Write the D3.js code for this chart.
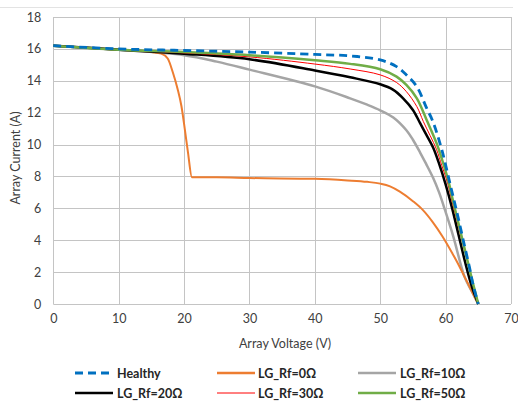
<!DOCTYPE html>
<html><head><meta charset="utf-8">
<script src="https://cdn.jsdelivr.net/npm/d3@7"></script>
<style>body{margin:0;background:#fff;}svg{display:block;font-family:Lato,"Open Sans",sans-serif;}</style>
</head><body><svg id="c" width="518" height="401"></svg>
<script>
const xTicks = [0,10,20,30,40,50,60,70];
const yTicks = [0,2,4,6,8,10,12,14,16,18];

const healthyV = [0,10,20,30,40,45.4,50,52.5,54,55.6,57.1,58,59.4,60.7,61.7,62.7,63.7,64.2,65];
const healthyI = [16.2,16.0,15.9,15.8,15.65,15.56,15.31,14.89,14.37,13.63,12.28,11.5,9.7,7.5,5.8,4.0,2.2,1.2,0];

const rf0V = [0,10,15,16.5,17.5,18.3,19.0,19.6,20.1,20.6,21.2,25,30,40,45,48,50,51.5,53,55,56.5,58,59.5,61,62,62.9,64,65];
const rf0I = [16.2,15.95,15.8,15.7,15.4,14.5,13.5,12.4,11.0,9.5,7.95,7.95,7.9,7.85,7.75,7.66,7.55,7.38,7.05,6.45,5.9,5.15,4.25,3.2,2.45,1.7,0.8,0];

const rf10V = [0,10,20,25,30,40,45.4,48,50,52,54,55,56.1,57,58.1,59,59.9,61.2,62.9,64,65];
const rf10I = [16.2,15.95,15.6,15.2,14.7,13.65,12.9,12.5,12.15,11.7,10.9,10.3,9.5,8.8,7.9,7.0,5.9,4.2,1.7,0.8,0];

const rf20V = [0,10,20,30,40,45.4,50,52,53.5,55,56.1,57,58.1,59,60,61,62,63,64,65];
const rf20I = [16.2,15.95,15.7,15.35,14.65,14.22,13.78,13.43,12.9,12.17,11.34,10.65,9.8,8.8,7.5,6.0,4.3,2.6,1.1,0];

const rf30V = [0,10,20,30,40,45.4,50,52.5,54,55.6,56.6,58.6,59.4,60.3,61,62,63,64,65];
const rf30I = [16.2,15.95,15.75,15.5,15.05,14.74,14.37,13.89,13.32,12.38,11.44,9.7,8.7,7.6,6.4,4.8,3.2,1.6,0];

const rf50V = [0,10,20,30,40,45.4,50,52.5,54,55.6,57.1,58.6,59.5,60.5,61,62,63,64,65];
const rf50I = [16.2,15.95,15.8,15.6,15.28,15.06,14.72,14.26,13.74,12.9,11.54,10.1,9.0,7.6,6.7,5.0,3.3,1.6,0];

const seriesNames = ["Healthy","LG_Rf=0Ω","LG_Rf=10Ω","LG_Rf=20Ω","LG_Rf=30Ω","LG_Rf=50Ω"];
const seriesColors = ["#0070C0","#ED7D31","#A5A5A5","#000000","#FF0000","#70AD47"];

const svg = d3.select("#c");
const m = {l:53.3, r:511, t:17, b:304};
const x = d3.scaleLinear().domain([0,70]).range([m.l,m.r]);
const y = d3.scaleLinear().domain([0,18]).range([m.b,m.t]);

svg.append("line").attr("x1",0).attr("x2",513).attr("y1",7.5).attr("y2",7.5).attr("stroke","#e3e3e3").attr("stroke-width",1);

// grid
const g = svg.append("g");
g.selectAll("line.h").data(yTicks).join("line")
  .attr("x1",m.l).attr("x2",m.r).attr("y1",d=>Math.round(y(d))+0.5).attr("y2",d=>Math.round(y(d))+0.5)
  .attr("stroke","#C4C4C4").attr("stroke-width",1);
g.selectAll("line.v").data(xTicks).join("line")
  .attr("y1",m.t).attr("y2",m.b).attr("x1",d=>Math.round(x(d))+0.5).attr("x2",d=>Math.round(x(d))+0.5)
  .attr("stroke","#C4C4C4").attr("stroke-width",1);

// axes with labels
const xa = svg.append("g").attr("transform",`translate(0,${m.b})`)
  .call(d3.axisBottom(x).tickValues(xTicks).tickSize(0).tickPadding(10));
xa.select(".domain").remove();
xa.selectAll("text").attr("font-size",12.5).attr("fill","#404040").attr("font-family","Lato,sans-serif");
const ya = svg.append("g").attr("transform",`translate(${m.l-12},0)`)
  .call(d3.axisLeft(y).tickValues(yTicks).tickSize(0).tickPadding(0));
ya.select(".domain").remove();
ya.selectAll("text").attr("font-size",12.5).attr("fill","#404040").attr("font-family","Lato,sans-serif");

svg.append("text").attr("x",285).attr("y",348).attr("text-anchor","middle").attr("font-size",12.5).attr("fill","#404040").text("Array Voltage (V)");
svg.append("text").attr("transform","translate(20,158) rotate(-90)").attr("text-anchor","middle").attr("font-size",12.5).attr("fill","#404040").text("Array Current (A)");

const data = [
  {v:healthyV,i:healthyI,w:2.8,dash:"8,5"},
  {v:rf0V,i:rf0I,w:2,dash:null},
  {v:rf10V,i:rf10I,w:2.5,dash:null},
  {v:rf20V,i:rf20I,w:2.5,dash:null},
  {v:rf30V,i:rf30I,w:1,dash:null},
  {v:rf50V,i:rf50I,w:2.5,dash:null}
];
const smooth = d3.line().x(d=>x(d[0])).y(d=>y(d[1])).curve(d3.curveCatmullRom.alpha(0.5));
const mono = d3.line().x(d=>x(d[0])).y(d=>y(d[1])).curve(d3.curveMonotoneX);
const order = [2,1,3,4,5,0];
order.forEach(k=>{
  const s = data[k];
  const gen = k===1 ? mono : smooth;
  svg.append("path").attr("d",gen(s.v.map((v,j)=>[v,s.i[j]])))
    .attr("fill","none").attr("stroke",seriesColors[k]).attr("stroke-width",s.w)
    .attr("stroke-dasharray",s.dash);
});

// legend
const lx = [75,217,358], tx=[117,258,400], ly=[373,393];
seriesNames.forEach((n,k)=>{
  const c = k%3, r = Math.floor(k/3);
  const s = data[k];
  svg.append("line").attr("x1",lx[c]).attr("x2",lx[c]+38).attr("y1",ly[r]).attr("y2",ly[r])
    .attr("stroke",seriesColors[k]).attr("stroke-width",k===0?2.8:(k===4?1:2.5)).attr("stroke-dasharray",s.dash);
  svg.append("text").attr("x",tx[c]).attr("y",ly[r]+4.5).attr("font-size",12.5).attr("font-weight","bold").attr("fill","#262626").text(n);
});
</script></body></html>
